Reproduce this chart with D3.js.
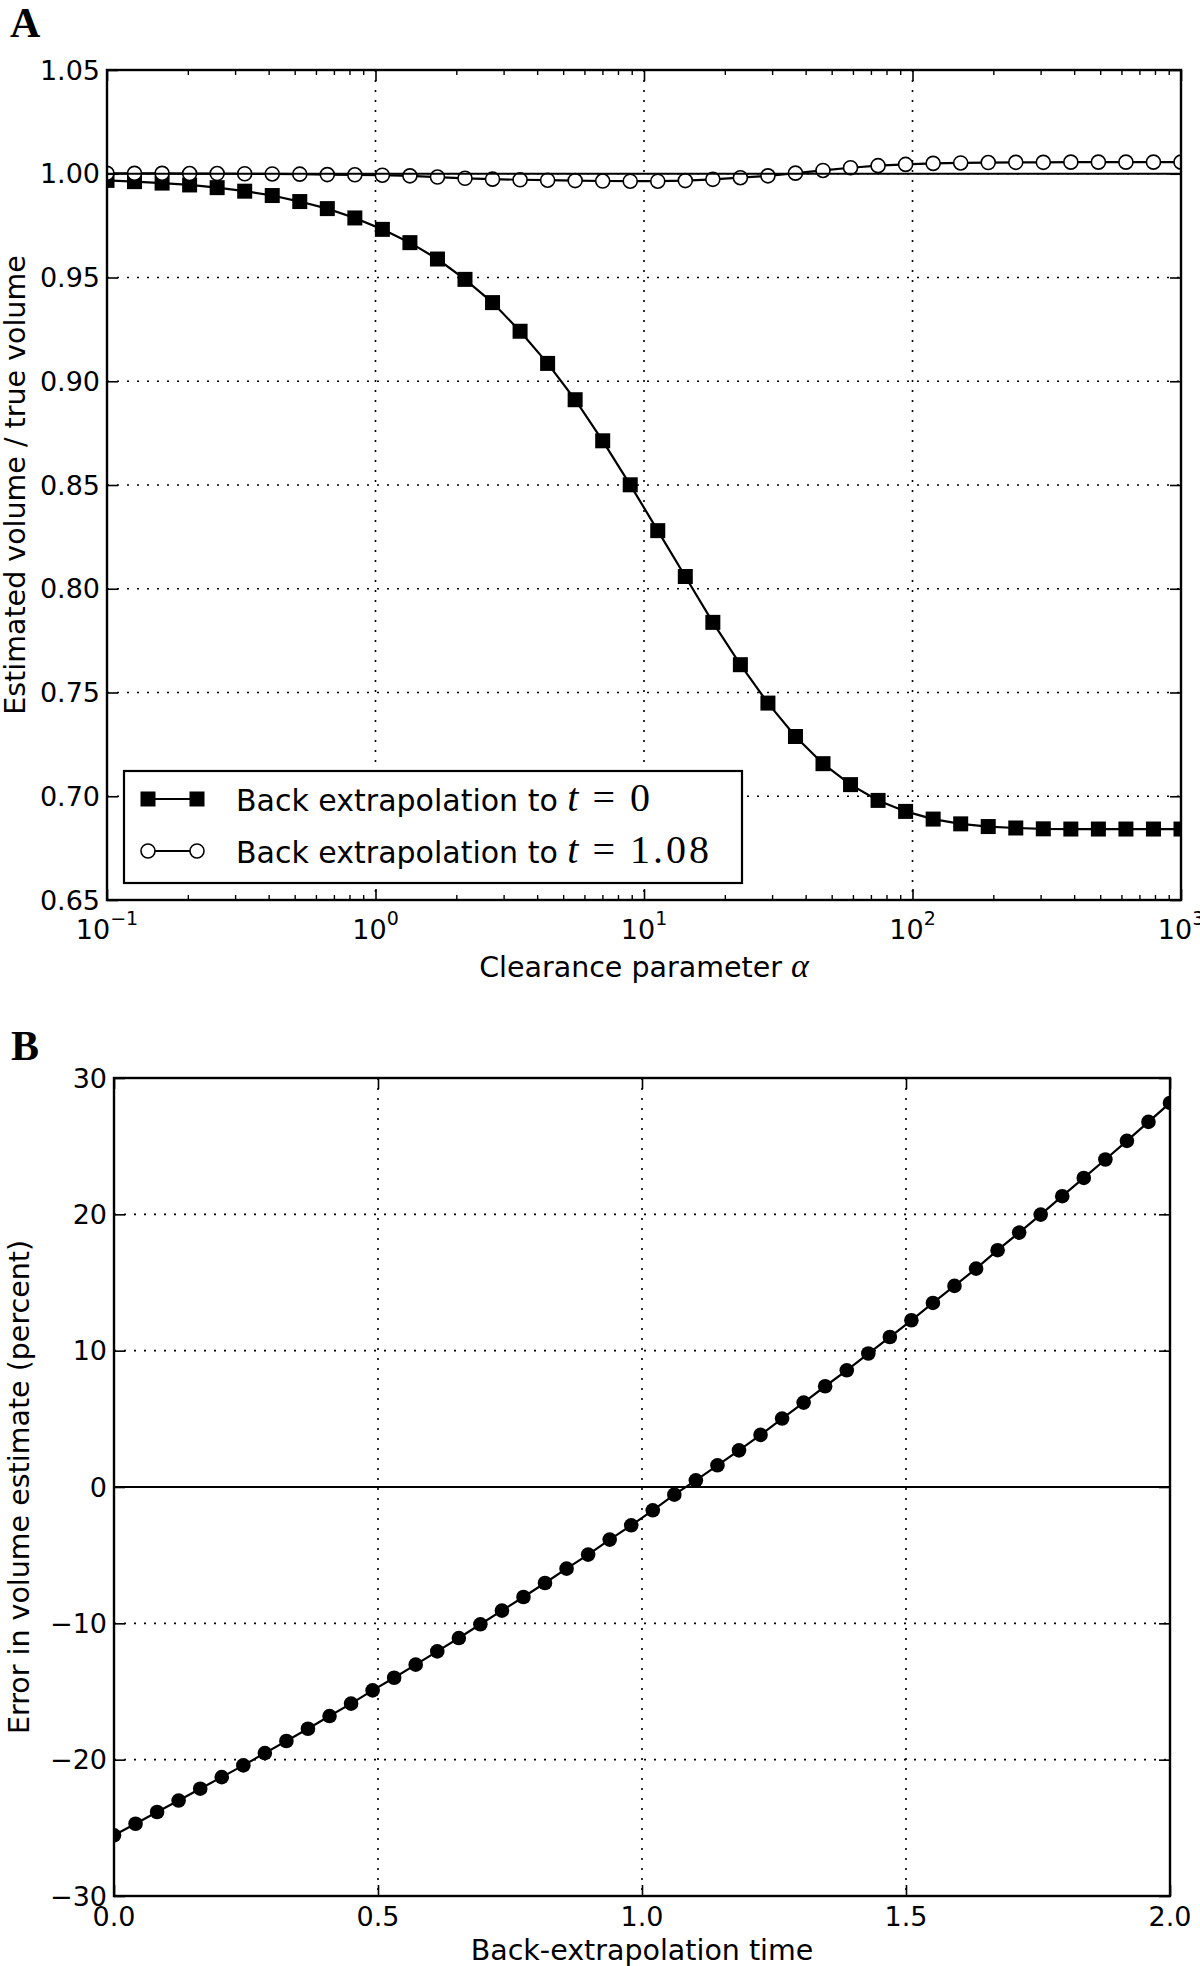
<!DOCTYPE html>
<html>
<head>
<meta charset="utf-8">
<script src="https://cdn.jsdelivr.net/npm/d3@7/dist/d3.min.js"></script>
<style>
    body { margin: 0; background: #fff; }
    svg text { font-family: "DejaVu Sans", sans-serif; fill: #000; }
</style>
</head>
<body>
<div id="chart"></div>
<script>
// ---------------- data ----------------
// panel A: clearance parameter alpha (log axis)
var alphaValues = [0.1, 0.1266, 0.1604, 0.2031, 0.2572, 0.3257, 0.4125, 0.5223, 0.6615, 0.8377,
    1.0608, 1.3434, 1.7013, 2.1544, 2.7283, 3.4551, 4.3755, 5.5410, 7.0170, 8.8862,
    11.253, 14.251, 18.047, 22.855, 28.943, 36.652, 46.416, 58.780, 74.438, 94.267,
    119.38, 151.18, 191.45, 242.45, 307.03, 388.81, 492.39, 623.54, 789.65, 1000];
// back extrapolation to t=0
var volumeT0 = [0.9968, 0.9962, 0.9955, 0.9946, 0.9933, 0.9916, 0.9895, 0.9866, 0.9832, 0.9787,
    0.9732, 0.9668, 0.9589, 0.9491, 0.9379, 0.9241, 0.9086, 0.8911, 0.8713, 0.8501,
    0.8280, 0.8059, 0.7838, 0.7634, 0.7449, 0.7288, 0.7157, 0.7056, 0.6980, 0.6927,
    0.6890, 0.6867, 0.6854, 0.6847, 0.6843, 0.6842, 0.6842, 0.6842, 0.6842, 0.6842];
// back extrapolation to t=1.08
var volumeT108 = [1.0002, 1.0002, 1.0002, 1.0001, 1.0001, 1.0000, 0.9999, 0.9998, 0.9996, 0.9995,
    0.9993, 0.9990, 0.9984, 0.9978, 0.9974, 0.9971, 0.9969, 0.9967, 0.9965, 0.9964,
    0.9964, 0.9967, 0.9973, 0.9981, 0.9990, 1.0003, 1.0016, 1.0029, 1.0039, 1.0045,
    1.0050, 1.0052, 1.0054, 1.0055, 1.0055, 1.0056, 1.0056, 1.0056, 1.0056, 1.0056];
var alphaTicks = [0.1, 1, 10, 100, 1000];
var alphaTickExp = ["\u22121", "0", "1", "2", "3"];
var volumeTicks = [0.65, 0.70, 0.75, 0.80, 0.85, 0.90, 0.95, 1.00, 1.05];

// panel B: back-extrapolation time vs error
var backTimes = [0, 0.0408, 0.0816, 0.1224, 0.1633, 0.2041, 0.2449, 0.2857, 0.3265, 0.3673,
    0.4082, 0.4490, 0.4898, 0.5306, 0.5714, 0.6122, 0.6531, 0.6939, 0.7347, 0.7755,
    0.8163, 0.8571, 0.8980, 0.9388, 0.9796, 1.0204, 1.0612, 1.1020, 1.1429, 1.1837,
    1.2245, 1.2653, 1.3061, 1.3469, 1.3878, 1.4286, 1.4694, 1.5102, 1.5510, 1.5918,
    1.6327, 1.6735, 1.7143, 1.7551, 1.7959, 1.8367, 1.8776, 1.9184, 1.9592, 2.0];
var errorPercent = [-25.55, -24.70, -23.84, -23.00, -22.13, -21.28, -20.42, -19.52, -18.63, -17.73,
    -16.80, -15.89, -14.92, -13.99, -13.03, -12.06, -11.08, -10.07, -9.07, -8.07,
    -7.04, -5.99, -4.96, -3.86, -2.81, -1.71, -0.56, 0.49, 1.59, 2.69,
    3.82, 5.02, 6.19, 7.39, 8.56, 9.79, 11.00, 12.23, 13.50, 14.75,
    16.02, 17.37, 18.66, 19.98, 21.33, 22.67, 24.02, 25.39, 26.78, 28.17];
var timeTicks = [0, 0.5, 1.0, 1.5, 2.0];
var errorTicks = [-30, -20, -10, 0, 10, 20, 30];

// ---------------- layout ----------------
var boxA = { left: 107, right: 1181, top: 70, bottom: 900 };
var boxB = { left: 114, right: 1170, top: 1078, bottom: 1896 };
var tickFont = 27, labelFont = 28.5, legendFont = 30, mathFont = 40;
var serif = "'Liberation Serif', 'Times New Roman', serif";

var svg = d3.select("#chart").append("svg")
    .attr("width", 1200)
    .attr("height", 1966);

var defs = svg.append("defs");
function clipFor(id, b) {
    defs.append("clipPath").attr("id", id)
        .append("rect")
        .attr("x", b.left).attr("y", b.top)
        .attr("width", b.right - b.left).attr("height", b.bottom - b.top);
}
clipFor("clipA", boxA);
clipFor("clipB", boxB);

// dotted grid at the inner major ticks
function drawGrid(g, b, x, y, xTicks, yTicks) {
    g.append("g").selectAll("line").data(xTicks.slice(1, -1)).join("line")
        .attr("x1", d => x(d)).attr("x2", d => x(d))
        .attr("y1", b.top).attr("y2", b.bottom)
        .attr("stroke", "#000").attr("stroke-width", 1.6).attr("stroke-dasharray", "2,8");
    g.append("g").selectAll("line").data(yTicks.slice(1, -1)).join("line")
        .attr("x1", b.left).attr("x2", b.right)
        .attr("y1", d => y(d)).attr("y2", d => y(d))
        .attr("stroke", "#000").attr("stroke-width", 1.6).attr("stroke-dasharray", "2,8");
}

// inward ticks on all four sides + frame
function drawTicks(g, b, x, y, xTicks, yTicks, xMinor) {
    var sides = [
        { gen: () => d3.axisBottom(x), t: "translate(0," + b.bottom + ")", v: xTicks, horiz: true },
        { gen: () => d3.axisTop(x), t: "translate(0," + b.top + ")", v: xTicks, horiz: true },
        { gen: () => d3.axisLeft(y), t: "translate(" + b.left + ",0)", v: yTicks },
        { gen: () => d3.axisRight(y), t: "translate(" + b.right + ",0)", v: yTicks }
    ];
    sides.forEach(function (s) {
        var a = g.append("g").attr("transform", s.t)
            .call(s.gen().tickValues(s.v).tickSize(-11).tickFormat(""));
        a.select(".domain").remove();
        a.selectAll("line").attr("stroke", "#000").attr("stroke-width", 1.6);
        if (xMinor && s.horiz) {
            var m = g.append("g").attr("transform", s.t)
                .call(s.gen().tickValues(xMinor).tickSize(-5).tickFormat(""));
            m.select(".domain").remove();
            m.selectAll("line").attr("stroke", "#000").attr("stroke-width", 1.4);
        }
    });
    g.append("rect")
        .attr("x", b.left).attr("y", b.top)
        .attr("width", b.right - b.left).attr("height", b.bottom - b.top)
        .attr("fill", "none").attr("stroke", "#000").attr("stroke-width", 2.4);
}

// ---------------- panel A ----------------
var xA = d3.scaleLog().domain([0.1, 1000]).range([boxA.left, boxA.right]);
var yA = d3.scaleLinear().domain([0.65, 1.05]).range([boxA.bottom, boxA.top]);
var minorA = [];
alphaTicks.slice(0, -1).forEach(function (d) {
    for (var k = 2; k <= 9; k++) minorA.push(d * k);
});

var gA = svg.append("g");
drawGrid(gA, boxA, xA, yA, alphaTicks, volumeTicks);

var dataA = gA.append("g").attr("clip-path", "url(#clipA)");
var lineA = d3.line().x((d, i) => xA(alphaValues[i])).y(d => yA(d));
dataA.append("path").datum(volumeT0)
    .attr("d", lineA).attr("fill", "none").attr("stroke", "#000").attr("stroke-width", 2.2);
dataA.selectAll(".sq").data(volumeT0).join("rect")
    .attr("class", "sq")
    .attr("x", (d, i) => xA(alphaValues[i]) - 7.5)
    .attr("y", d => yA(d) - 7.5)
    .attr("width", 15).attr("height", 15)
    .attr("fill", "#000");
dataA.append("path").datum(volumeT108)
    .attr("d", lineA).attr("fill", "none").attr("stroke", "#000").attr("stroke-width", 2.2);
dataA.selectAll(".ci").data(volumeT108).join("circle")
    .attr("class", "ci")
    .attr("cx", (d, i) => xA(alphaValues[i]))
    .attr("cy", d => yA(d))
    .attr("r", 7)
    .attr("fill", "#fff").attr("stroke", "#000").attr("stroke-width", 1.6);
// reference line at 1
dataA.append("line")
    .attr("x1", boxA.left).attr("x2", boxA.right)
    .attr("y1", yA(1)).attr("y2", yA(1))
    .attr("stroke", "#000").attr("stroke-width", 2.2);

drawTicks(gA, boxA, xA, yA, alphaTicks, volumeTicks, minorA);

// tick labels A
gA.append("g").selectAll("text").data(volumeTicks).join("text")
    .attr("x", boxA.left - 7).attr("y", d => yA(d)).attr("dy", "0.36em")
    .attr("text-anchor", "end").attr("font-size", tickFont)
    .text(d => d.toFixed(2));
var xtA = gA.append("g").selectAll("text").data(alphaTicks).join("text")
    .attr("x", d => xA(d)).attr("y", boxA.bottom + 39)
    .attr("text-anchor", "middle").attr("font-size", tickFont);
xtA.append("tspan").text("10");
xtA.append("tspan").attr("dy", -14).attr("font-size", 19).text((d, i) => alphaTickExp[i]);

// axis labels A
var xlabA = gA.append("text")
    .attr("x", (boxA.left + boxA.right) / 2).attr("y", 977)
    .attr("text-anchor", "middle").attr("font-size", labelFont);
xlabA.append("tspan").text("Clearance parameter ");
xlabA.append("tspan").style("font-family", serif).attr("font-style", "italic")
    .attr("font-size", 34).text("\u03b1");
gA.append("text")
    .attr("transform", "translate(25," + ((boxA.top + boxA.bottom) / 2) + ") rotate(-90)")
    .attr("text-anchor", "middle").attr("font-size", labelFont)
    .text("Estimated volume / true volume");

// legend A
var legend = gA.append("g");
legend.append("rect")
    .attr("x", 124).attr("y", 771).attr("width", 618).attr("height", 112)
    .attr("fill", "#fff").attr("stroke", "#000").attr("stroke-width", 2.2);
var legendItems = [
    { label: "0", marker: "square", y: 799 },
    { label: "1.08", marker: "circle", y: 851 }
];
legendItems.forEach(function (it) {
    legend.append("line").attr("x1", 148).attr("x2", 197).attr("y1", it.y).attr("y2", it.y)
        .attr("stroke", "#000").attr("stroke-width", 2.2);
    [148, 197].forEach(function (cx) {
        if (it.marker === "square") {
            legend.append("rect").attr("x", cx - 7.5).attr("y", it.y - 7.5)
                .attr("width", 15).attr("height", 15).attr("fill", "#000");
        } else {
            legend.append("circle").attr("cx", cx).attr("cy", it.y).attr("r", 7)
                .attr("fill", "#fff").attr("stroke", "#000").attr("stroke-width", 1.6);
        }
    });
    var t = legend.append("text").attr("x", 236).attr("y", it.y + 12).attr("font-size", legendFont);
    t.append("tspan").text("Back extrapolation to ");
    t.append("tspan").style("font-family", serif).attr("font-style", "italic")
        .attr("font-size", mathFont).text("t");
    t.append("tspan").style("font-family", serif).attr("dx", 14)
        .attr("font-size", mathFont).attr("transform", null).text("=");
    t.append("tspan").style("font-family", serif).attr("dx", 15)
        .attr("font-size", mathFont).attr("letter-spacing", 3).text(it.label);
});

// ---------------- panel B ----------------
var xB = d3.scaleLinear().domain([0, 2]).range([boxB.left, boxB.right]);
var yB = d3.scaleLinear().domain([-30, 30]).range([boxB.bottom, boxB.top]);

var gB = svg.append("g");
drawGrid(gB, boxB, xB, yB, timeTicks, errorTicks);

var dataB = gB.append("g").attr("clip-path", "url(#clipB)");
var lineB = d3.line().x((d, i) => xB(backTimes[i])).y(d => yB(d));
dataB.append("path").datum(errorPercent)
    .attr("d", lineB).attr("fill", "none").attr("stroke", "#000").attr("stroke-width", 2.2);
dataB.selectAll("circle").data(errorPercent).join("circle")
    .attr("cx", (d, i) => xB(backTimes[i]))
    .attr("cy", d => yB(d))
    .attr("r", 7.3)
    .attr("fill", "#000");
dataB.append("line")
    .attr("x1", boxB.left).attr("x2", boxB.right)
    .attr("y1", yB(0)).attr("y2", yB(0))
    .attr("stroke", "#000").attr("stroke-width", 2.2);

drawTicks(gB, boxB, xB, yB, timeTicks, errorTicks);

gB.append("g").selectAll("text").data(errorTicks).join("text")
    .attr("x", boxB.left - 7).attr("y", d => yB(d)).attr("dy", "0.36em")
    .attr("text-anchor", "end").attr("font-size", tickFont)
    .text(d => d < 0 ? "\u2212" + Math.abs(d) : String(d));
gB.append("g").selectAll("text").data(timeTicks).join("text")
    .attr("x", d => xB(d)).attr("y", boxB.bottom + 30)
    .attr("text-anchor", "middle").attr("font-size", tickFont)
    .text(d => d.toFixed(1));

gB.append("text")
    .attr("x", (boxB.left + boxB.right) / 2).attr("y", 1960)
    .attr("text-anchor", "middle").attr("font-size", labelFont)
    .text("Back-extrapolation time");
gB.append("text")
    .attr("transform", "translate(29," + ((boxB.top + boxB.bottom) / 2) + ") rotate(-90)")
    .attr("text-anchor", "middle").attr("font-size", labelFont)
    .text("Error in volume estimate (percent)");

// panel letters
svg.append("text").attr("x", 10).attr("y", 37)
    .style("font-family", serif).attr("font-weight", "bold")
    .attr("font-size", 42).text("A");
svg.append("text").attr("x", 11).attr("y", 1060)
    .style("font-family", serif).attr("font-weight", "bold")
    .attr("font-size", 42).text("B");
</script>
</body>
</html>
